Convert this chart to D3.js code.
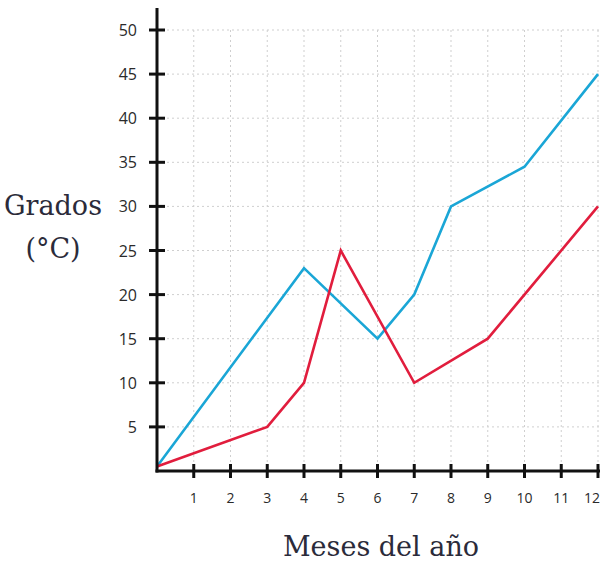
<!DOCTYPE html>
<html lang="es">
<head>
  <meta charset="UTF-8">
  <title>Grados por mes</title>
  <script src="https://d3js.org/d3.v7.min.js"></script>
  <style>
    body { margin: 0; background: #fff; }
    .grid line { stroke: #cfcfcf; stroke-width: 1; stroke-dasharray: 2 3; }
    .tick-label { font-family: "Open Sans", sans-serif; fill: #2a2a2a; }
    .title { font-family: "DejaVu Serif", serif; fill: #2b2b3a; }
  </style>
</head>
<body>
  <div id="chart"></div>
  <script>
    // datos
    const xTicks = [1, 2, 3, 4, 5, 6, 7, 8, 9, 10, 11, 12];
    const yTicks = [5, 10, 15, 20, 25, 30, 35, 40, 45, 50];
    const blueMonths = [0, 4, 6, 7, 8, 10, 12];
    const blueValues = [0.5, 23, 15, 20, 30, 34.5, 45];
    const redMonths = [0, 3, 4, 5, 7, 9, 12];
    const redValues = [0.5, 5, 10, 25, 10, 15, 30];

    const width = 604, height = 565;
    const svg = d3.select("#chart").append("svg")
      .attr("width", width)
      .attr("height", height);

    const x = d3.scaleLinear().domain([0, 12]).range([157, 598]);
    const y = d3.scaleLinear().domain([0, 50]).range([471, 30]);

    // cuadricula punteada
    const grid = svg.append("g").attr("class", "grid");
    grid.selectAll(".gv").data(xTicks).enter().append("line")
      .attr("x1", d => x(d)).attr("x2", d => x(d))
      .attr("y1", y(50)).attr("y2", y(0));
    grid.selectAll(".gh").data(yTicks).enter().append("line")
      .attr("x1", x(0)).attr("x2", x(12) + 2)
      .attr("y1", d => y(d)).attr("y2", d => y(d));

    // series
    const line = d3.line().x(d => x(d[0])).y(d => y(d[1]));
    svg.append("path")
      .datum(blueMonths.map((m, i) => [m, blueValues[i]]))
      .attr("fill", "none").attr("stroke", "#1aa6d6")
      .attr("stroke-width", 2.6).attr("stroke-linejoin", "miter")
      .attr("d", line);
    svg.append("path")
      .datum(redMonths.map((m, i) => [m, redValues[i]]))
      .attr("fill", "none").attr("stroke", "#e11d3d")
      .attr("stroke-width", 2.6).attr("stroke-linejoin", "miter")
      .attr("d", line);

    // ejes
    const axes = svg.append("g").attr("stroke", "#111").attr("stroke-width", 3);
    axes.append("line").attr("x1", x(0)).attr("x2", x(0)).attr("y1", 8).attr("y2", y(0) + 1.5);
    axes.append("line").attr("x1", x(0) - 1.5).attr("x2", x(12) + 2).attr("y1", y(0)).attr("y2", y(0));
    axes.selectAll(".ty").data(yTicks).enter().append("line")
      .attr("x1", x(0) - 8).attr("x2", x(0) + 8)
      .attr("y1", d => y(d)).attr("y2", d => y(d));
    axes.selectAll(".tx").data(xTicks).enter().append("line")
      .attr("x1", d => x(d)).attr("x2", d => x(d))
      .attr("y1", y(0) - 7).attr("y2", y(0) + 7);

    svg.selectAll(".yl").data(yTicks).enter().append("text")
      .attr("class", "tick-label")
      .attr("x", 137).attr("y", d => y(d) + 6)
      .attr("text-anchor", "end").attr("font-size", 16)
      .text(d => d);
    svg.selectAll(".xl").data(xTicks).enter().append("text")
      .attr("class", "tick-label")
      .attr("x", d => d === 12 ? x(d) - 6 : x(d)).attr("y", 503)
      .attr("text-anchor", "middle").attr("font-size", 14)
      .text(d => d);

    // titulos
    svg.append("text").attr("class", "title")
      .attr("x", 53).attr("y", 215).attr("text-anchor", "middle")
      .attr("font-size", 27).text("Grados");
    svg.append("text").attr("class", "title")
      .attr("x", 53).attr("y", 258).attr("text-anchor", "middle")
      .attr("font-size", 27).text("(°C)");
    svg.append("text").attr("class", "title")
      .attr("x", 381).attr("y", 556).attr("text-anchor", "middle")
      .attr("font-size", 27).text("Meses del año");
  </script>
</body>
</html>
